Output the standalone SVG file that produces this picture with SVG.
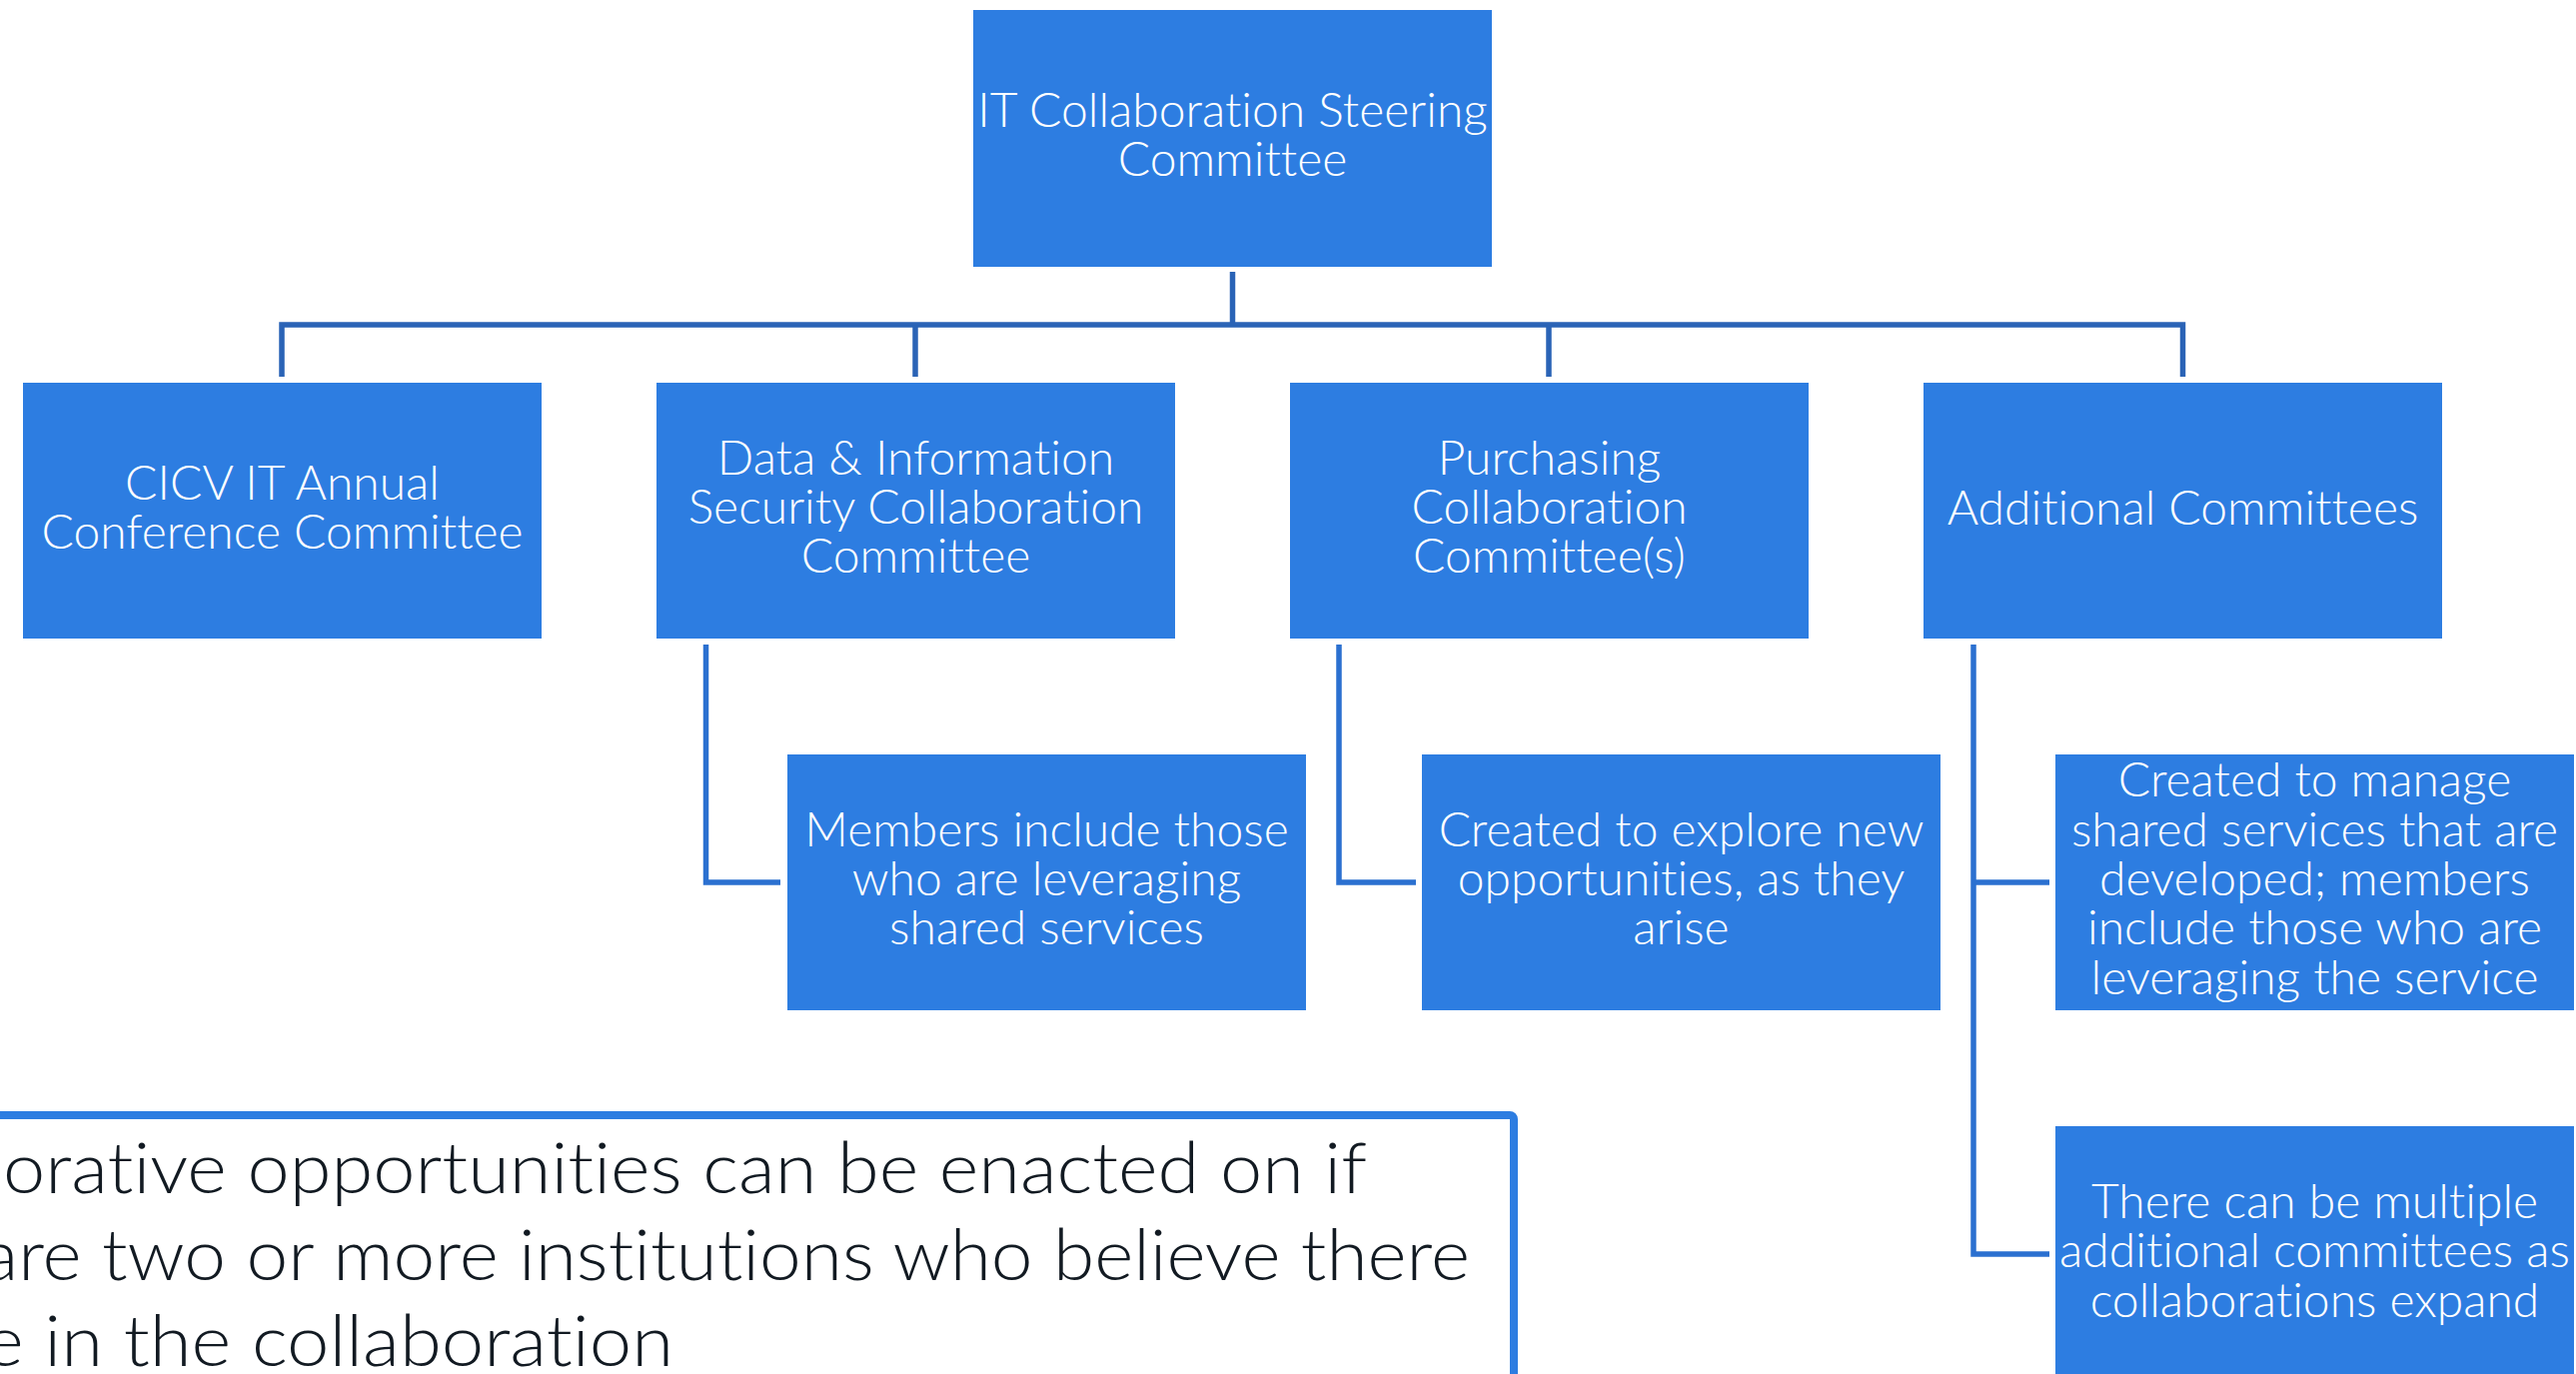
<svg xmlns="http://www.w3.org/2000/svg" width="2578" height="1375" viewBox="0 0 2578 1375">
<style>
.box{fill:#2D7DE1}
.t{font-family:Lato,"Open Sans","Liberation Sans",sans-serif;font-weight:300;font-size:48px;fill:#ffffff;text-anchor:middle;font-variant-ligatures:none;font-feature-settings:"liga" 0,"dlig" 0,"clig" 0}
.up{fill:none;stroke:#2A63B6;stroke-width:5.5;stroke-linejoin:miter}
.lo{fill:none;stroke:#2B70D0;stroke-width:5.5;stroke-linejoin:miter}
.note{font-family:Lato,"Open Sans","Liberation Sans",sans-serif;font-weight:300;font-size:70px;fill:#121A22;font-variant-ligatures:none;font-feature-settings:"liga" 0,"dlig" 0,"clig" 0}
</style>
<rect width="2578" height="1375" fill="#ffffff"/>
<g id="connectors">
<path class="up" d="M1233.5 272V325"/>
<path class="up" d="M282 377V325H2184.5V377"/>
<path class="up" d="M916 325V377"/>
<path class="up" d="M1550 325V377"/>
<path class="lo" d="M706.5 645V883H781"/>
<path class="lo" d="M1340 645V883H1417"/>
<path class="lo" d="M1975 645V1255H2051"/>
<path class="lo" d="M1975 883H2051"/>
</g>
<g id="steering">
<rect class="box" x="974" y="10" width="519" height="257"/>
<text class="t" x="1233.5" y="127">IT Collaboration Steering</text>
<text class="t" x="1233.5" y="176">Committee</text>
</g>
<g id="cicv">
<rect class="box" x="23" y="383" width="519" height="256"/>
<text class="t" x="282.5" y="500">CICV IT Annual</text>
<text class="t" x="282.5" y="549">Conference Committee</text>
</g>
<g id="data">
<rect class="box" x="657" y="383" width="519" height="256"/>
<text class="t" x="916.5" y="475">Data &amp; Information</text>
<text class="t" x="916.5" y="524">Security Collaboration</text>
<text class="t" x="916.5" y="573">Committee</text>
</g>
<g id="purchasing">
<rect class="box" x="1291" y="383" width="519" height="256"/>
<text class="t" x="1550.5" y="475">Purchasing</text>
<text class="t" x="1550.5" y="524">Collaboration</text>
<text class="t" x="1550.5" y="573">Committee(s)</text>
</g>
<g id="additional">
<rect class="box" x="1925" y="383" width="519" height="256"/>
<text class="t" x="2184.5" y="525">Additional Committees</text>
</g>
<g id="members">
<rect class="box" x="788" y="755" width="519" height="256"/>
<text class="t" x="1047.5" y="847">Members include those</text>
<text class="t" x="1047.5" y="896">who are leveraging</text>
<text class="t" x="1047.5" y="945">shared services</text>
</g>
<g id="explore">
<rect class="box" x="1423" y="755" width="519" height="256"/>
<text class="t" x="1682.5" y="847">Created to explore new</text>
<text class="t" x="1682.5" y="896">opportunities, as they</text>
<text class="t" x="1682.5" y="945">arise</text>
</g>
<g id="manage">
<rect class="box" x="2057" y="755" width="519" height="256"/>
<text class="t" x="2316.5" y="797">Created to manage</text>
<text class="t" x="2316.5" y="847">shared services that are</text>
<text class="t" x="2316.5" y="896">developed; members</text>
<text class="t" x="2316.5" y="945">include those who are</text>
<text class="t" x="2316.5" y="995">leveraging the service</text>
</g>
<g id="multiple">
<rect class="box" x="2057" y="1127" width="519" height="256"/>
<text class="t" x="2316.5" y="1219">There can be multiple</text>
<text class="t" x="2316.5" y="1268">additional committees as</text>
<text class="t" x="2316.5" y="1318">collaborations expand</text>
</g>
<g id="note">
<rect x="-20" y="1116" width="1535" height="320" rx="4" fill="#ffffff" stroke="#2D7DE1" stroke-width="8"/>
<text class="note" x="3" y="1194" textLength="1365" lengthAdjust="spacingAndGlyphs">orative opportunities can be enacted on if</text>
<text class="note" x="-18" y="1281" textLength="1489" lengthAdjust="spacingAndGlyphs">are two or more institutions who believe there</text>
<text class="note" x="-16" y="1367" textLength="690" lengthAdjust="spacingAndGlyphs">e in the collaboration</text>
</g>
</svg>
